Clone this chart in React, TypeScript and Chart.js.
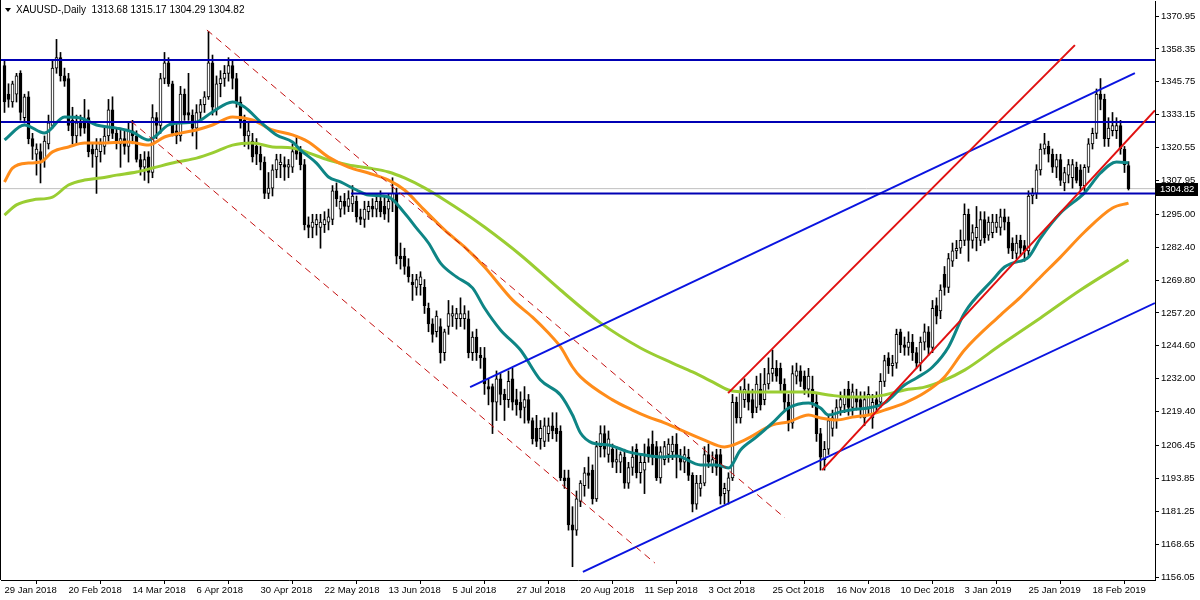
import React, { useEffect, useRef } from "react";
import { Chart, registerables } from "chart.js";

Chart.register(...registerables);

// ---------- DATA ----------
const symbolTitle = "XAUUSD-,Daily";

const opens = [
  1352, 1341, 1338, 1341, 1349, 1332, 1340, 1324, 1318, 1319, 1316, 1322, 1329, 1351, 1355, 1348, 1347, 1331, 1325, 1330, 1331, 1332, 1320, 1317,
  1319, 1321, 1325, 1335, 1326, 1322, 1324, 1321, 1327, 1325, 1316, 1313, 1317, 1311, 1332, 1329, 1347, 1353, 1345, 1327, 1325, 1341, 1334, 1333,
  1328, 1334, 1337, 1340, 1353, 1335, 1345, 1347, 1349, 1352, 1347, 1338, 1331, 1325, 1323, 1321, 1318, 1315, 1303, 1305, 1312, 1314, 1314, 1313, 1313,
  1320, 1319, 1314, 1291, 1290, 1291, 1290, 1291, 1292, 1293, 1304, 1297, 1300, 1298, 1299, 1300, 1294, 1293, 1296, 1298, 1297, 1300, 1298, 1297,
  1300, 1303, 1279, 1279, 1275, 1269, 1267, 1268, 1267, 1259, 1253, 1250, 1252, 1242, 1252, 1256, 1255, 1255, 1255, 1255, 1242, 1248, 1241, 1240,
  1229, 1229, 1223, 1232, 1226, 1224, 1232, 1224, 1223, 1221, 1224, 1216, 1213, 1209, 1208, 1211, 1214, 1213, 1212, 1194, 1194, 1176, 1174, 1185,
  1191, 1196, 1197, 1186, 1206, 1211, 1203, 1205, 1200, 1200, 1202, 1192, 1198, 1205, 1196, 1197, 1206, 1207, 1206, 1194, 1201, 1203, 1204, 1207,
  1202, 1200, 1202, 1195, 1184, 1190, 1192, 1203, 1199, 1203, 1203, 1188, 1189, 1194, 1223, 1217, 1224, 1227, 1224, 1221, 1228, 1224, 1230, 1234,
  1236, 1236, 1230, 1223, 1215, 1233, 1235, 1233, 1228, 1228, 1223, 1211, 1201, 1205, 1213, 1216, 1221, 1222, 1228, 1221, 1225, 1224, 1217, 1221,
  1217, 1224, 1223, 1231, 1240, 1237, 1238, 1250, 1245, 1244, 1246, 1242, 1238, 1246, 1250, 1244, 1260, 1258, 1272, 1267, 1277, 1281, 1282, 1285,
  1295, 1285, 1286, 1285, 1293, 1287, 1288, 1290, 1290, 1294, 1292, 1284, 1280, 1285, 1283, 1281, 1302, 1303, 1312, 1320, 1321, 1318, 1313, 1316,
  1307, 1310, 1309, 1313, 1312, 1306, 1313, 1322, 1326, 1341, 1339, 1324, 1327, 1327, 1329, 1320, 1313.68,
];
const highs = [
  1354, 1345, 1346, 1349, 1350, 1341, 1342, 1326, 1322, 1322, 1325, 1333, 1354, 1362, 1357, 1351, 1349, 1336, 1333, 1333, 1339, 1335, 1322, 1324,
  1324, 1328, 1339, 1340, 1328, 1328, 1327, 1330, 1331, 1327, 1318, 1319, 1319, 1337, 1334, 1349, 1357, 1355, 1346, 1330, 1344, 1343, 1349, 1335,
  1337, 1339, 1342, 1365, 1356, 1348, 1350, 1352, 1355, 1354, 1349, 1340, 1333, 1330, 1326, 1324, 1321, 1317, 1311, 1314, 1318, 1318, 1317, 1316, 1322,
  1325, 1321, 1316, 1294, 1295, 1295, 1295, 1296, 1297, 1306, 1307, 1302, 1303, 1304, 1306, 1302, 1297, 1300, 1300, 1301, 1303, 1304, 1302, 1303,
  1309, 1305, 1284, 1282, 1278, 1272, 1272, 1273, 1270, 1261, 1255, 1258, 1255, 1251, 1262, 1260, 1259, 1263, 1260, 1258, 1250, 1251, 1244, 1244,
  1232, 1230, 1235, 1234, 1228, 1235, 1236, 1228, 1227, 1229, 1226, 1217, 1218, 1216, 1217, 1217, 1219, 1219, 1214, 1197, 1197, 1183, 1189, 1193,
  1198, 1202, 1199, 1208, 1214, 1214, 1212, 1207, 1206, 1204, 1205, 1200, 1206, 1207, 1203, 1207, 1209, 1212, 1208, 1206, 1208, 1209, 1210, 1211,
  1205, 1206, 1205, 1196, 1195, 1195, 1206, 1207, 1204, 1205, 1205, 1192, 1196, 1226, 1225, 1229, 1232, 1230, 1228, 1233, 1234, 1236, 1240, 1243,
  1239, 1238, 1232, 1226, 1237, 1238, 1237, 1235, 1236, 1233, 1226, 1213, 1208, 1218, 1220, 1224, 1227, 1228, 1231, 1230, 1228, 1227, 1227, 1229,
  1226, 1227, 1234, 1241, 1242, 1241, 1251, 1251, 1248, 1250, 1249, 1244, 1248, 1253, 1252, 1262, 1263, 1268, 1275, 1280, 1284, 1285, 1289, 1299,
  1297, 1291, 1298, 1296, 1296, 1294, 1295, 1295, 1297, 1297, 1294, 1286, 1287, 1287, 1285, 1304, 1305, 1314, 1322, 1326, 1323, 1320, 1318, 1318,
  1313, 1316, 1316, 1315, 1314, 1314, 1324, 1328, 1343, 1347, 1341, 1332, 1334, 1332, 1331, 1321, 1315.17,
];
const lows = [
  1334, 1336, 1336, 1338, 1331, 1330, 1322, 1316, 1310, 1307, 1313, 1320, 1328, 1349, 1346, 1344, 1327, 1322, 1322, 1325, 1326, 1317, 1313, 1303,
  1315, 1318, 1323, 1324, 1320, 1313, 1318, 1315, 1322, 1315, 1310, 1308, 1307, 1309, 1324, 1326, 1345, 1344, 1325, 1322, 1323, 1331, 1331, 1325,
  1320, 1331, 1334, 1339, 1333, 1333, 1340, 1344, 1346, 1343, 1336, 1328, 1321, 1320, 1315, 1314, 1312, 1301, 1301, 1302, 1309, 1309, 1308, 1309, 1311,
  1316, 1312, 1289, 1286, 1286, 1287, 1282, 1288, 1289, 1291, 1298, 1294, 1295, 1296, 1296, 1292, 1291, 1290, 1293, 1294, 1294, 1294, 1293, 1292,
  1296, 1276, 1274, 1272, 1269, 1262, 1264, 1264, 1257, 1250, 1246, 1248, 1238, 1239, 1249, 1252, 1251, 1252, 1251, 1240, 1239, 1239, 1236, 1226,
  1222, 1211, 1216, 1222, 1216, 1221, 1220, 1218, 1217, 1215, 1215, 1207, 1206, 1205, 1206, 1208, 1209, 1208, 1193, 1190, 1174, 1160, 1172, 1183,
  1187, 1190, 1184, 1185, 1202, 1202, 1200, 1198, 1196, 1196, 1190, 1190, 1195, 1194, 1192, 1188, 1200, 1199, 1193, 1192, 1199, 1200, 1201, 1194,
  1197, 1196, 1193, 1181, 1182, 1187, 1191, 1198, 1196, 1195, 1184, 1184, 1184, 1193, 1215, 1215, 1221, 1220, 1217, 1219, 1220, 1222, 1228, 1231,
  1231, 1227, 1220, 1212, 1213, 1230, 1229, 1226, 1225, 1221, 1208, 1197, 1197, 1203, 1210, 1213, 1218, 1219, 1218, 1218, 1220, 1217, 1214, 1218,
  1213, 1219, 1221, 1229, 1234, 1233, 1236, 1242, 1241, 1241, 1239, 1236, 1235, 1243, 1241, 1242, 1253, 1255, 1264, 1265, 1275, 1278, 1280, 1283,
  1277, 1282, 1281, 1283, 1284, 1285, 1286, 1288, 1287, 1289, 1280, 1278, 1278, 1279, 1277, 1279, 1299, 1301, 1310, 1318, 1315, 1311, 1309, 1306,
  1304, 1307, 1305, 1307, 1304, 1304, 1311, 1320, 1324, 1335, 1321, 1321, 1325, 1324, 1318, 1311, 1304.29,
];
const closes = [
  1338, 1339, 1345, 1348, 1334, 1340, 1324, 1321, 1320, 1316, 1323, 1330, 1351, 1355, 1348, 1346, 1329, 1325, 1330, 1328, 1328, 1319, 1318, 1320,
  1322, 1325, 1335, 1326, 1323, 1324, 1321, 1327, 1325, 1316, 1313, 1316, 1311, 1332, 1329, 1347, 1353, 1345, 1326, 1325, 1341, 1333, 1333, 1328,
  1334, 1337, 1340, 1353, 1336, 1345, 1347, 1349, 1352, 1347, 1338, 1330, 1325, 1327, 1317, 1318, 1315, 1303, 1305, 1312, 1316, 1315, 1313, 1314, 1319,
  1318, 1314, 1291, 1290, 1292, 1293, 1292, 1293, 1294, 1304, 1301, 1300, 1298, 1301, 1302, 1294, 1293, 1297, 1298, 1297, 1300, 1296, 1295, 1300,
  1303, 1279, 1278, 1275, 1271, 1268, 1270, 1271, 1260, 1253, 1249, 1256, 1242, 1250, 1257, 1257, 1257, 1257, 1257, 1242, 1248, 1242, 1240, 1230,
  1228, 1223, 1232, 1226, 1224, 1231, 1223, 1222, 1220, 1224, 1216, 1209, 1208, 1213, 1214, 1214, 1212, 1211, 1194, 1193, 1176, 1174, 1186, 1192,
  1196, 1195, 1186, 1206, 1211, 1205, 1209, 1200, 1201, 1203, 1192, 1198, 1202, 1196, 1200, 1200, 1202, 1202, 1194, 1204, 1206, 1207, 1207, 1202,
  1200, 1203, 1195, 1184, 1192, 1192, 1203, 1200, 1201, 1198, 1187, 1190, 1194, 1223, 1217, 1227, 1228, 1223, 1219, 1230, 1222, 1230, 1234, 1236,
  1233, 1230, 1223, 1215, 1234, 1235, 1231, 1228, 1233, 1223, 1211, 1202, 1205, 1216, 1217, 1221, 1224, 1225, 1221, 1227, 1223, 1221, 1224, 1226,
  1223, 1222, 1231, 1239, 1237, 1238, 1249, 1245, 1244, 1246, 1242, 1238, 1246, 1250, 1244, 1259, 1256, 1266, 1267, 1278, 1281, 1282, 1285, 1295,
  1285, 1288, 1290, 1293, 1286, 1292, 1292, 1292, 1294, 1292, 1282, 1281, 1284, 1282, 1281, 1302, 1303, 1312, 1320, 1322, 1318, 1313, 1316, 1308,
  1311, 1314, 1314, 1308, 1306, 1313, 1322, 1326, 1341, 1339, 1324, 1328, 1329, 1329, 1320, 1314, 1304.82,
];

// moving averages: [bar index, price]
const fastMA = [
  [0, 1323.5], [5, 1329.2], [10, 1326.1], [15, 1332.3], [19, 1331.9], [23, 1329.2], [28, 1328.0], [32, 1326.5], [36, 1323.5],
  [41, 1329.2], [44, 1330.0], [48, 1330.4], [52, 1334.2], [57, 1338.0], [60, 1336.1], [64, 1330.4], [68, 1325.4], [72, 1322.7],
  [74, 1319.6], [78, 1314.6], [81, 1309.3], [84, 1307.4], [88, 1304.3], [91, 1302.4], [96, 1301.6], [100, 1295.5], [103, 1289.7],
  [106, 1284.0], [109, 1276.3], [113, 1271.0], [117, 1266.8], [120, 1259.1], [124, 1250.7], [129, 1243.0], [134, 1231.5],
  [139, 1225.8], [142, 1218.1], [144, 1211.2], [147, 1207.4], [151, 1206.6], [156, 1204.0], [160, 1202.8], [164, 1202.0],
  [168, 1202.4], [174, 1199.0], [178, 1199.0], [181, 1197.8], [184, 1204.7], [188, 1209.7], [192, 1215.1], [196, 1220.8],
  [201, 1222.7], [204, 1220.8], [206, 1218.1], [209, 1219.3], [213, 1220.4], [216, 1220.8], [220, 1222.7], [225, 1229.6],
  [228, 1232.3], [232, 1236.5], [236, 1244.2], [240, 1257.2], [247, 1269.8], [250, 1274.8], [252, 1276.3], [256, 1278.6],
  [259, 1285.9], [264, 1295.5], [270, 1303.2], [274, 1310.8], [278, 1315.0], [281, 1314.7],
];
const midMA = [
  [0, 1307.4], [2, 1312.7], [6, 1314.6], [9, 1315.0], [12, 1318.9], [16, 1320.8], [20, 1322.3], [24, 1322.3], [31, 1322.7],
  [36, 1321.5], [40, 1324.6], [44, 1326.1], [48, 1327.3], [52, 1329.2], [57, 1332.3], [62, 1331.1], [67, 1327.3], [72, 1325.4],
  [76, 1322.7], [81, 1316.9], [86, 1313.1], [91, 1310.8], [96, 1308.1], [100, 1304.3], [105, 1296.6], [110, 1289.0],
  [115, 1282.5], [120, 1274.8], [127, 1262.2], [132, 1255.6], [136, 1249.5], [139, 1244.2], [142, 1236.5], [144, 1232.7],
  [152, 1223.9], [157, 1220.0], [161, 1217.3], [165, 1215.1], [168, 1213.1], [175, 1208.5], [180, 1205.9], [185, 1208.5],
  [192, 1214.3], [196, 1215.5], [201, 1218.1], [204, 1217.0], [208, 1216.2], [212, 1217.3], [216, 1218.1], [220, 1220.0],
  [225, 1222.7], [230, 1226.6], [235, 1232.7], [240, 1243.0], [249, 1256.4], [254, 1263.3], [259, 1271.0], [264, 1278.6],
  [270, 1288.2], [277, 1297.4], [281, 1299.3],
];
const slowMA = [
  [0, 1294.7], [3, 1298.6], [7, 1300.5], [12, 1301.6], [16, 1306.2], [20, 1308.1], [24, 1308.9], [28, 1310.0], [33, 1311.2],
  [37, 1312.7], [43, 1315.0], [48, 1316.5], [52, 1318.5], [57, 1321.5], [62, 1322.3], [67, 1320.8], [72, 1320.4], [76, 1318.5],
  [81, 1315.8], [86, 1313.9], [91, 1312.7], [96, 1311.2], [100, 1308.9], [105, 1305.1], [110, 1300.5], [115, 1295.5],
  [120, 1290.1], [129, 1279.4], [139, 1266.0], [149, 1253.4], [159, 1243.8], [167, 1238.0], [172, 1234.6], [177, 1230.8],
  [181, 1227.7], [186, 1226.9], [192, 1226.9], [201, 1226.9], [206, 1225.8], [211, 1225.0], [216, 1225.0], [220, 1225.8],
  [225, 1227.7], [230, 1228.8], [235, 1231.5], [240, 1235.3], [249, 1244.9], [259, 1255.3], [269, 1266.0], [281, 1277.5],
];

// drawn objects: [bar index, price]
const horizontalLevels = [1354.1, 1330.35];
const supportLevel = 1303.0;
const supportStartBar = 86.6;
const channelUpper = [[116.4, 1228.8], [282.6, 1349.1]];
const channelLower = [[144.6, 1158.0], [287.6, 1261.0]];
const redUpper = [[180.9, 1226.5], [267.6, 1359.8]];
const redLower = [[204.4, 1197.0], [287.6, 1334.8]];
const dashedUpper = [[50.6, 1365.6], [195.1, 1178.7]];
const dashedLower = [[31.6, 1330.7], [162.6, 1161.4]];

// axes
const dateLabels = [
  "29 Jan 2018", "20 Feb 2018", "14 Mar 2018", "6 Apr 2018", "30 Apr 2018", "22 May 2018", "13 Jun 2018", "5 Jul 2018",
  "27 Jul 2018", "20 Aug 2018", "11 Sep 2018", "3 Oct 2018", "25 Oct 2018", "16 Nov 2018", "10 Dec 2018", "3 Jan 2019",
  "25 Jan 2019", "18 Feb 2019",
];
const barsPerDateLabel = 16;
const priceTicks = [
  1370.95, 1358.35, 1345.75, 1333.15, 1320.55, 1307.95, 1295.0, 1282.4, 1269.8, 1257.2, 1244.6, 1232.0, 1219.4, 1206.45,
  1193.85, 1181.25, 1168.65, 1156.05,
];

const X_MIN = -0.875;
const X_MAX = 287.625;
const Y_MIN = 1154.91;
const Y_MAX = 1376.7;

const FONT = "'Liberation Sans', Arial, sans-serif";

const pts = (arr: number[][]) => arr.map(([x, y]) => ({ x, y }));

export default function App() {
  const ref = useRef<HTMLCanvasElement | null>(null);

  useEffect(() => {
    const canvas = ref.current;
    if (!canvas) return;
    const n = closes.length;
    const last = n - 1;

    const overlay = {
      id: "overlay",
      afterDraw(chart: any) {
        const { ctx, chartArea, scales } = chart;
        ctx.save();
        ctx.strokeStyle = "#000";
        ctx.lineWidth = 1;
        ctx.beginPath();
        ctx.moveTo(chartArea.left - 0.5, chartArea.bottom);
        ctx.lineTo(chartArea.left - 0.5, chartArea.top - 1);
        ctx.stroke();
        ctx.fillStyle = "#000";
        ctx.beginPath();
        ctx.moveTo(5, 8);
        ctx.lineTo(11, 8);
        ctx.lineTo(8, 12);
        ctx.closePath();
        ctx.fill();
        ctx.font = `10px ${FONT}`;
        ctx.textBaseline = "alphabetic";
        ctx.textAlign = "left";
        const f = (v: number) => v.toFixed(2);
        ctx.fillText(
          `${symbolTitle}  ${f(opens[last])} ${f(highs[last])} ${f(lows[last])} ${f(closes[last])}`,
          16,
          13
        );
        const y = Math.round(scales.y.getPixelForValue(closes[last]));
        ctx.fillStyle = "#000";
        ctx.fillRect(chartArea.right + 1, y - 6, 42, 13);
        ctx.fillStyle = "#fff";
        ctx.font = `9.5px ${FONT}`;
        ctx.textBaseline = "middle";
        ctx.fillText(f(closes[last]), chartArea.right + 5, y + 0.5);
        ctx.restore();
      },
    };

    const line = (data: any, color: string, width: number, order: number, extra: any = {}) => ({
      type: "line",
      data,
      borderColor: color,
      borderWidth: width,
      pointRadius: 0,
      fill: false,
      order,
      ...extra,
    });

    const chart = new Chart(canvas, {
      type: "bar",
      data: {
        datasets: [
          line(
            [
              { x: X_MIN, y: closes[last] },
              { x: X_MAX, y: closes[last] },
            ],
            "#c0c0c0",
            1,
            20
          ),
          {
            type: "bar",
            data: closes.map((_, i) => ({ x: i, y: [lows[i], highs[i]] })),
            backgroundColor: "#000",
            borderWidth: 0,
            barThickness: 1,
            grouped: false,
            order: 12,
          } as any,
          {
            type: "bar",
            data: closes.map((c, i) => ({ x: i, y: [opens[i], c] })),
            backgroundColor: closes.map((c, i) => (c >= opens[i] ? "#ffffff" : "#000000")),
            borderColor: "#000",
            borderWidth: 1,
            borderSkipped: false,
            barThickness: 3,
            minBarLength: 1,
            grouped: false,
            order: 11,
          } as any,
          line(pts(slowMA), "#9acd32", 3, 8, { cubicInterpolationMode: "monotone" }),
          line(pts(midMA), "#ff8c1a", 3, 7, { cubicInterpolationMode: "monotone" }),
          line(pts(fastMA), "#0e8585", 3, 6, { cubicInterpolationMode: "monotone" }),
          ...horizontalLevels.map((v) =>
            line(
              [
                { x: X_MIN, y: v },
                { x: X_MAX, y: v },
              ],
              "#0000b4",
              2,
              2
            )
          ),
          line(
            [
              { x: supportStartBar, y: supportLevel },
              { x: X_MAX, y: supportLevel },
            ],
            "#0000b4",
            2,
            2
          ),
          line(pts(channelUpper), "#0a14e0", 2, 2),
          line(pts(channelLower), "#0a14e0", 2, 2),
          line(pts(redUpper), "#e01010", 2, 1),
          line(pts(redLower), "#e01010", 2, 1),
          line(pts(dashedUpper), "#c41010", 1, 1, { borderDash: [7, 5] }),
          line(pts(dashedLower), "#c41010", 1, 1, { borderDash: [7, 5] }),
        ] as any,
      },
      options: {
        animation: false,
        responsive: false,
        devicePixelRatio: 1,
        events: [],
        layout: { padding: { left: 1, top: 1, right: 0, bottom: 0 } },
        plugins: { legend: { display: false }, tooltip: { enabled: false }, title: { display: false } },
        scales: {
          x: {
            type: "linear",
            min: X_MIN,
            max: X_MAX,
            offset: false,
            afterBuildTicks: (s: any) => {
              s.ticks = dateLabels.map((_, k) => ({ value: k * barsPerDateLabel }));
            },
            afterFit: (s: any) => {
              s.height = 20;
              s.paddingLeft = 0;
              s.paddingRight = 0;
            },
            grid: { drawOnChartArea: false, drawTicks: true, tickLength: 4, color: "#000" },
            border: { display: true, color: "#000", width: 1 },
            ticks: {
              autoSkip: false,
              maxRotation: 0,
              align: "start",
              padding: 1,
              color: "#000",
              font: { family: FONT, size: 9.5 },
              callback: (v: any) => dateLabels[Math.round(Number(v) / barsPerDateLabel)] ?? "",
            },
          },
          y: {
            type: "linear",
            position: "right",
            min: Y_MIN,
            max: Y_MAX,
            afterBuildTicks: (s: any) => {
              s.ticks = priceTicks.map((v) => ({ value: v }));
            },
            afterFit: (s: any) => {
              s.width = 45;
              s.paddingTop = 0;
              s.paddingBottom = 0;
            },
            grid: { drawOnChartArea: false, drawTicks: true, tickLength: 4, color: "#000" },
            border: { display: true, color: "#000", width: 1 },
            ticks: {
              autoSkip: false,
              padding: 2,
              color: "#000",
              font: { family: FONT, size: 9.5 },
              callback: (v: any) => Number(v).toFixed(2),
            },
          },
        },
      } as any,
      plugins: [overlay],
    });

    return () => chart.destroy();
  }, []);

  return (
    <div style={{ position: "absolute", left: 0, top: 0, width: 1200, height: 600, background: "#fff" }}>
      <canvas ref={ref} width={1200} height={600} style={{ display: "block", width: 1200, height: 600 }} />
    </div>
  );
}
